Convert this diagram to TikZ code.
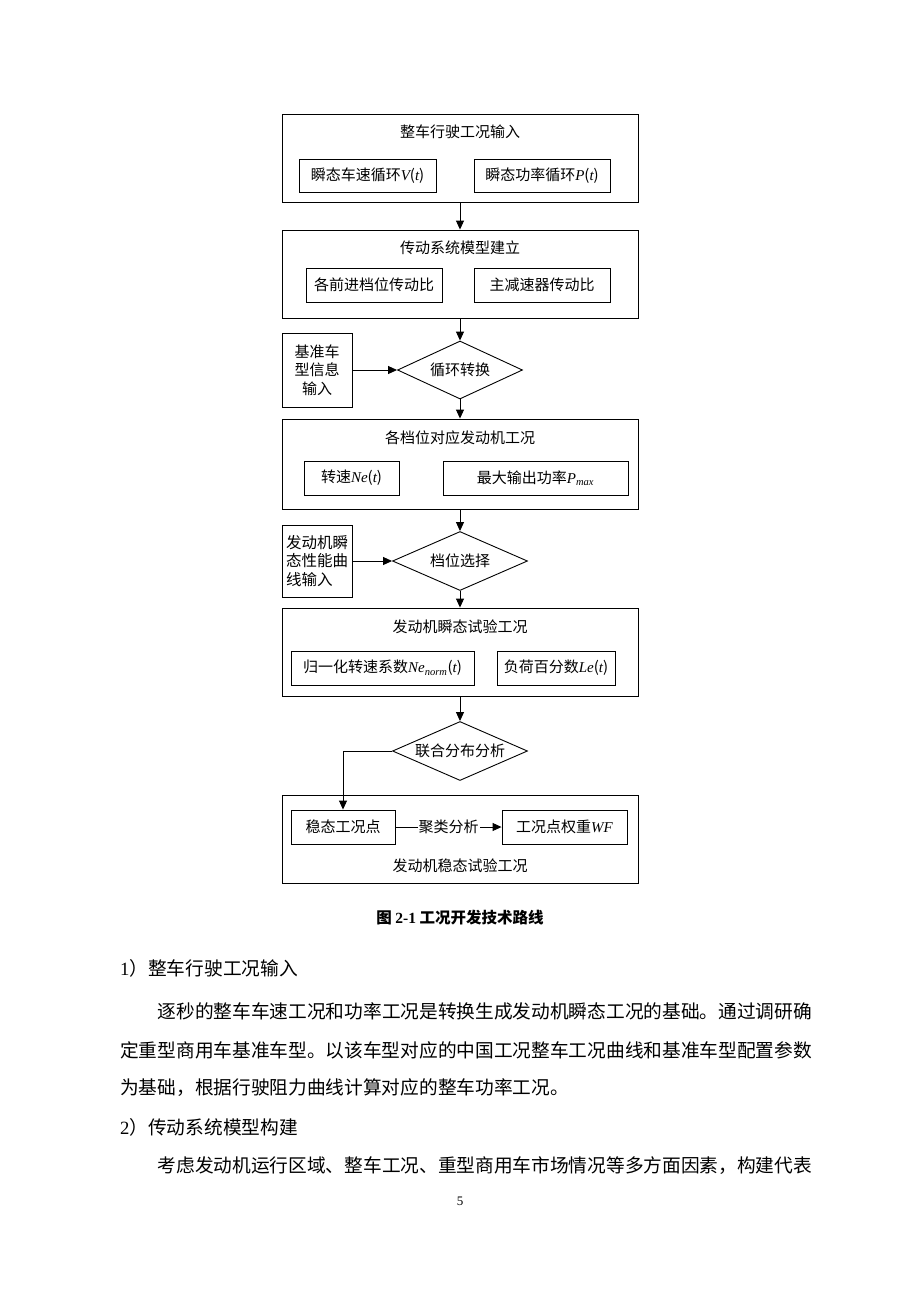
\documentclass[tikz,border=0pt]{standalone}
\usepackage{fontspec}
\setmainfont{Noto Sans CJK SC}
\newfontfamily\tmsfont{Liberation Serif}
\usetikzlibrary{shapes.geometric,arrows.meta}
\newcommand{\lv}[1]{{\tmsfont\itshape #1}}
\newcommand{\lsub}[1]{\textsubscript{\tmsfont\itshape #1}}
\begin{document}
\begin{tikzpicture}[x=1pt,y=-1pt,
  every node/.style={font=\fontsize{15}{18}\selectfont},
  outer/.style={draw, line width=0.9pt, minimum width=356pt, inner sep=0pt},
  inbox/.style={draw, line width=0.9pt, minimum height=34pt, inner sep=0pt},
  dia/.style={diamond, draw, line width=0.9pt, aspect=2.2, inner sep=0pt},
  side/.style={draw, line width=0.9pt, inner sep=0pt, minimum width=70pt},
  lbl/.style={inner sep=0pt},
  body/.style={anchor=west, inner sep=0pt, font=\fontsize{18.7}{22}\selectfont},
  arr/.style={line width=0.9pt, -{Triangle[length=9pt,width=8pt]}}]
\useasboundingbox[fill=white] (0,0) rectangle (920,1302);

% Box 1
\node[outer, minimum height=88pt] (b1) at (460,158) {};
\node[lbl] (t1) at (460,132) {整车行驶工况输入};
\node[inbox, minimum width=137pt, minimum height=33pt] (b1l) at (367.5,175.5) {瞬态车速循环\lv{V}({\lv{t}})};
\node[inbox, minimum width=136pt, minimum height=33pt] (b1r) at (542,175.5) {瞬态功率循环\lv{P}({\lv{t}})};

% Box 2
\node[outer, minimum height=88pt] (b2) at (460,274) {};
\node[lbl] (t2) at (460,248) {传动系统模型建立};
\node[inbox, minimum width=136pt] (b2l) at (374,285) {各前进档位传动比};
\node[inbox, minimum width=136pt] (b2r) at (542,285) {主减速器传动比};

% Diamond 1 + side 1
\node[dia, minimum width=125pt, minimum height=58pt] (d1) at (460,370) {循环转换};
\node[side, minimum height=74pt, align=center, font=\fontsize{15}{18.5}\selectfont] (s1) at (317,370) {基准车\\型信息\\输入};

% Box 3
\node[outer, minimum height=90pt] (b3) at (460,464) {};
\node[lbl] (t3) at (460,438) {各档位对应发动机工况};
\node[inbox, minimum width=95pt] (b3l) at (351.5,478) {转速\lv{Ne}({\lv{t}})};
\node[inbox, minimum width=185pt] (b3r) at (535.5,478) {最大输出功率\lv{P}\lsub{max}};

% Diamond 2 + side 2
\node[dia, minimum width=135pt, minimum height=59pt] (d2) at (460,561) {档位选择};
\node[side, minimum height=72pt, align=left, font=\fontsize{15.5}{18.5}\selectfont] (s2) at (317,561) {发动机瞬\\态性能曲\\线输入};

% Box 4
\node[outer, minimum height=88pt] (b4) at (460,652) {};
\node[lbl] (t4) at (460,627) {发动机瞬态试验工况};
\node[inbox, minimum width=183pt] (b4l) at (382.5,668) {归一化转速系数\lv{Ne}\lsub{norm}({\lv{t}})};
\node[inbox, minimum width=118pt] (b4r) at (556,668) {负荷百分数\lv{Le}({\lv{t}})};

% Diamond 3
\node[dia, minimum width=135pt, minimum height=59pt] (d3) at (460,751) {联合分布分析};

% Box 5
\node[outer, minimum height=88pt] (b5) at (460,839) {};
\node[inbox, minimum width=104pt] (b5l) at (343,827) {稳态工况点};
\node[inbox, minimum width=125pt] (b5r) at (564.5,827) {工况点权重\lv{WF}};
\node[lbl] (t5) at (460,866) {发动机稳态试验工况};

% Connectors
\draw[arr] (b1.south) -- (b2.north);
\draw[arr] (b2.south) -- (d1.north);
\draw[arr] (s1.east) -- (d1.west);
\draw[arr] (d1.south) -- (b3.north);
\draw[arr] (b3.south) -- (d2.north);
\draw[arr] (s2.east) -- (d2.west);
\draw[arr] (d2.south) -- (b4.north);
\draw[arr] (b4.south) -- (d3.north);
\draw[arr] (d3.west) -| (b5l.north);
\draw[arr] (b5l.east) -- node[fill=white, inner sep=1pt] (cl) {聚类分析} (b5r.west);

% Caption
\node[lbl, font=\fontsize{15.5}{18}\selectfont\bfseries] (cap) at (460,918) {图 {\tmsfont\bfseries 2-1} 工况开发技术路线};

% Body text
\node[body] (p1) at (120,968) {{\tmsfont 1}）整车行驶工况输入};
\node[body] (p2) at (157.4,1011) {逐秒的整车车速工况和功率工况是转换生成发动机瞬态工况的基础。通过调研确};
\node[body] (p3) at (120,1050) {定重型商用车基准车型。以该车型对应的中国工况整车工况曲线和基准车型配置参数};
\node[body] (p4) at (120,1088) {为基础，根据行驶阻力曲线计算对应的整车功率工况。};
\node[body] (p5) at (120,1127) {{\tmsfont 2}）传动系统模型构建};
\node[body] (p6) at (157.4,1166) {考虑发动机运行区域、整车工况、重型商用车市场情况等多方面因素，构建代表};
\node[lbl, font=\fontsize{13}{15}\selectfont\tmsfont] (pg) at (460,1201) {5};
\end{tikzpicture}
\end{document}
